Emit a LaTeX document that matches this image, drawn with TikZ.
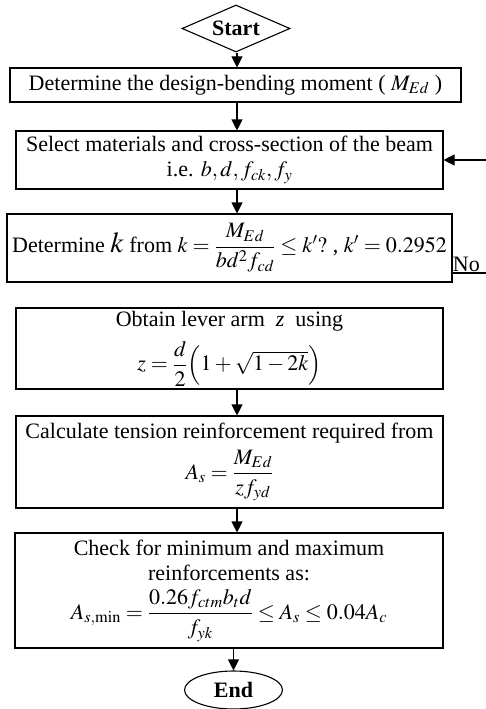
\documentclass[tikz,border=0pt]{standalone}
\usepackage{mathptmx}
\usepackage{amsmath}
\usepackage{fontspec}
\setmainfont{Liberation Serif}
\usetikzlibrary{arrows.meta, shapes.geometric}
\tikzset{flowline/.style={line width=1.1pt, -{Triangle[length=11pt,width=11pt]}}}

\begin{document}
\begin{tikzpicture}[x=1pt,y=-1pt]
\useasboundingbox (0,0) rectangle (485,709);

\begin{scope}[every node/.style={draw,line width=1.1pt,align=center,inner sep=1pt,
    font=\fontsize{22}{25}\selectfont}]
    \node[diamond,aspect=2.3,minimum width=108pt,minimum height=47pt,inner sep=0pt] (start) at (236,28.5) {\textbf{Start}};
    \node[minimum width=451pt,minimum height=34pt] (moment) at (235.5,85) {Determine the design-bending moment ( $M_{Ed}$ )};
    \node[minimum width=427pt,minimum height=58pt] (select) at (229.5,160) {Select materials and cross-section of the beam\\ i.e. $b,d,f_{ck},f_y$};
    \node[minimum width=445pt,minimum height=68pt,inner sep=0pt] (kcheck) at (229.5,248) {Determine {\fontsize{29}{30}\selectfont$k$} from $k=\dfrac{M_{Ed}}{bd^2f_{cd}}\le k'?$ , $k'=0.2952$};
    \node[minimum width=427pt,minimum height=81pt,inner sep=0pt] (lever) at (229.5,348.5) {Obtain lever arm\enspace\textit{z}\enspace using\\[9pt] $z=\dfrac{d}{2}\Bigl(1+\sqrt{1-2k}\Bigr)$};
    \node[minimum width=427pt,minimum height=92pt] (steel) at (229.5,462) {Calculate tension reinforcement required from\\[6pt] $A_s=\dfrac{M_{Ed}}{zf_{yd}}$};
    \node[minimum width=428pt,minimum height=115pt] (limits) at (229,590.5) {Check for minimum and maximum\\ reinforcements as:\\[8pt] $A_{s,\min}=\dfrac{0.26f_{ctm}b_td}{f_{yk}}\le A_s\le 0.04A_c$};
    \node[ellipse,minimum width=98pt,minimum height=38pt,inner sep=0pt] (end) at (233.5,690) {\textbf{End}};
\end{scope}

\coordinate (spine) at (237,0);
\coordinate (no) at (492,273);

\draw[flowline] (spine |- start.south) -- (spine |- moment.north);
\draw[flowline] (spine |- moment.south) -- (spine |- select.north);
\draw[flowline] (spine |- select.south) -- (spine |- kcheck.north);
\draw[flowline] (spine |- lever.south) -- (spine |- steel.north);
\draw[flowline] (spine |- steel.south) -- (spine |- limits.north);
\draw[flowline] (end |- limits.south) -- (end.north);
\draw[flowline] (kcheck.east |- no) -- node[pos=0.35,above,font=\fontsize{22}{25}\selectfont,inner sep=1pt] {No} (no) |- (select.east);

\end{tikzpicture}
\end{document}
